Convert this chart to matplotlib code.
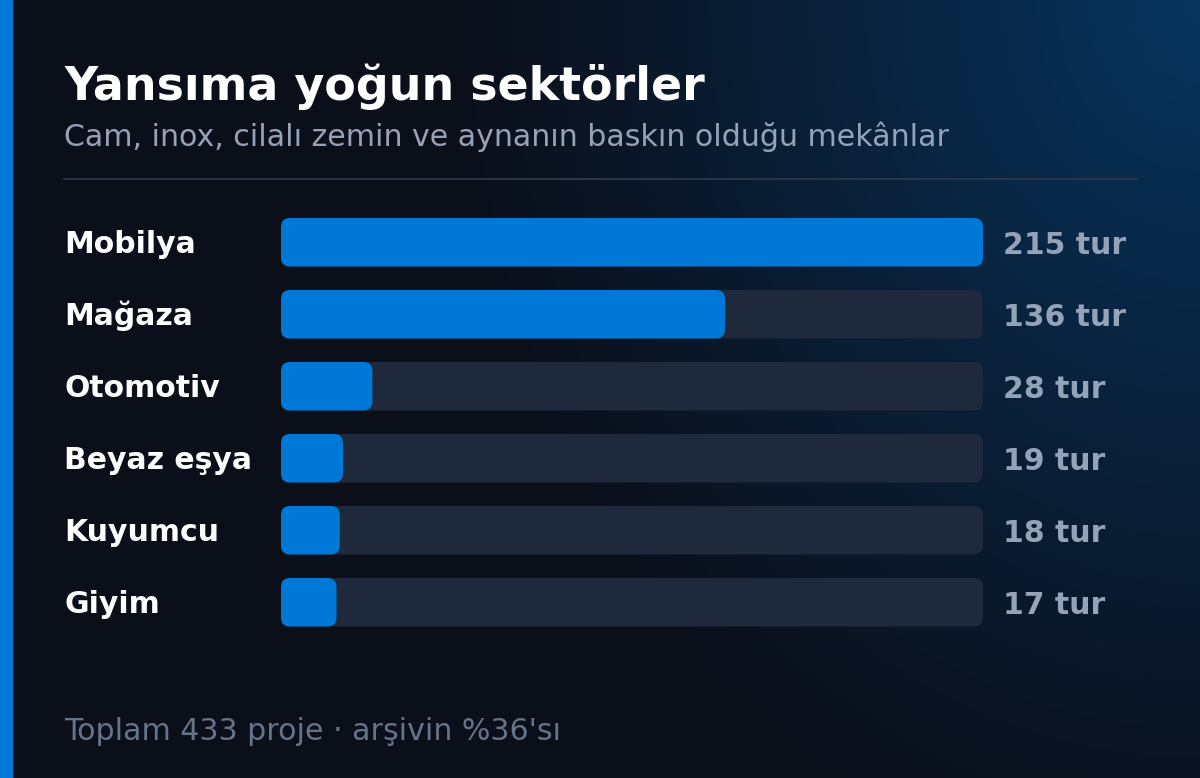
import numpy as np
import matplotlib
matplotlib.use("Agg")
import matplotlib.pyplot as plt
from matplotlib.patches import FancyBboxPatch, Rectangle
from matplotlib.transforms import blended_transform_factory
from matplotlib.colors import to_rgb

plt.rcParams["font.family"] = ["DejaVu Sans"]

# data
sectors = ["Mobilya", "Mağaza", "Otomotiv", "Beyaz eşya", "Kuyumcu", "Giyim"]
counts = [215, 136, 28, 19, 18, 17]
unit = "tur"
title = "Yansıma yoğun sektörler"
subtitle = "Cam, inox, cilalı zemin ve aynanın baskın olduğu mekânlar"
footer = "Toplam 433 proje · arşivin %36'sı"

W, H = 1200, 778
BLUE = "#0078d7"
BG = "#0b0f1a"
TRACK = "#1e293b"
MUTED = "#94a3b8"
FOOT = "#64748b"

fig = plt.figure(figsize=(W / 100, H / 100), dpi=100)

# background with radial glow from top right
bg_ax = fig.add_axes([0, 0, 1, 1])
bg_ax.set_xlim(0, W)
bg_ax.set_ylim(H, 0)
bg_ax.axis("off")
yy, xx = np.mgrid[0:H, 0:W]
d = np.hypot((xx - W) / 760.0, yy / 900.0)
alpha = 0.36 * np.clip(1 - d, 0, 1) ** 1.1
base = np.array(to_rgb(BG))
glow = np.array(to_rgb(BLUE))
img = base[None, None, :] * (1 - alpha[..., None]) + glow[None, None, :] * alpha[..., None]
bg_ax.imshow(img, extent=(0, W, H, 0), aspect="auto", zorder=0)
bg_ax.add_patch(Rectangle((0, 0), 12, H, color=BLUE, zorder=1))
bg_ax.plot([64, 1137], [179, 179], color="#2a3545", lw=1.4, zorder=1)


def fy(px):
    return 1 - px / H


fig.text(64 / W, fy(100), title, color="white", fontsize=33,
         fontweight="bold", va="baseline", ha="left")
fig.text(64 / W, fy(146.5), subtitle, color=MUTED, fontsize=21.6,
         va="baseline", ha="left")
fig.text(64 / W, fy(740), footer, color=FOOT, fontsize=21.6,
         va="baseline", ha="left")

# bar area
n = len(sectors)
top_px, row_px, bar_px = 218, 72, 48.5
hb = bar_px / row_px
bot_px = top_px + n * row_px - (row_px - bar_px)
ax = fig.add_axes([281 / W, fy(bot_px), (983 - 281) / W, (bot_px - top_px) / H])
ax.set_xlim(0, max(counts))
ax.set_ylim(n - 1 + hb / 2, -hb / 2)
ax.axis("off")
ax.patch.set_alpha(0)

px_per_x = (983 - 281) / max(counts)
aspect = px_per_x / row_px
rad = 9 / px_per_x

ypos = np.arange(n)
for i, v in enumerate(counts):
    for val, col, z in [(max(counts), TRACK, 1), (v, BLUE, 2)]:
        ax.add_patch(FancyBboxPatch((0, ypos[i] - hb / 2), val, hb,
                                    boxstyle=f"round,pad=0,rounding_size={rad}",
                                    mutation_aspect=aspect, fc=col, ec="none",
                                    zorder=z))

tr = blended_transform_factory(fig.transFigure, ax.transData)
for i, (s, v) in enumerate(zip(sectors, counts)):
    ax.text(64 / W, ypos[i] + 10.5 / row_px, s, transform=tr, color="white",
            fontsize=21.5, fontweight="bold", va="baseline", ha="left",
            clip_on=False)
    ax.text(1003 / W, ypos[i] + 12 / row_px, f"{v} {unit}", transform=tr,
            color=MUTED, fontsize=21.5, fontweight="bold", va="baseline",
            ha="left", clip_on=False)

fig.savefig("out.png", dpi=100, facecolor=BG)
